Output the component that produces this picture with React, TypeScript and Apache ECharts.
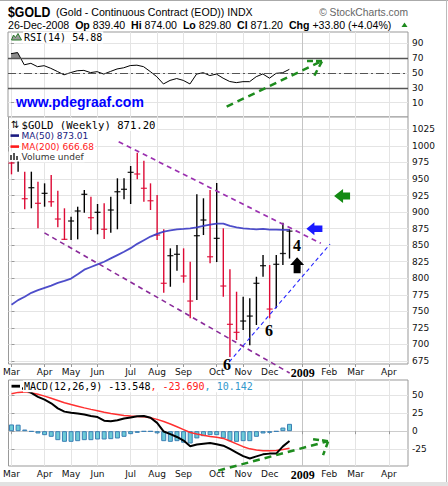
import React, { useEffect, useRef } from 'react';
import * as echarts from 'echarts';

// ---- axis ticks / labels ----
const monthTicks = [0, 5, 9, 13, 18, 22, 26, 31, 35, 39, 44, 48, 52, 57];
const monthLabels = ['Mar', 'Apr', 'May', 'Jun', 'Jul', 'Aug', 'Sep', 'Oct', 'Nov', 'Dec', '2009', 'Feb', 'Mar', 'Apr'];
const priceTicks = [675, 700, 725, 750, 775, 800, 825, 850, 875, 900, 925, 950, 975, 1000, 1025];
const rsiTicks = [10, 30, 50, 70, 90];
const macdTicks = [-25, 0, 25, 50];

// ---- weekly bars (Mar 3 2008 .. Dec 22 2008) ----
const highs = [976, 981.6, 961, 961, 945.8, 943.4, 956, 932.2, 905.7, 893, 908.1, 933.3, 923.2, 912.2, 913.2, 923.2, 951, 951, 969.6, 989.7, 977.6, 943.4, 925.8, 874, 845.2, 850.2, 845.2, 825, 926.8, 920.8, 933.3, 943.9, 875.4, 813.5, 779.7, 772.1, 769.7, 802.3, 835.1, 820, 835.1, 883.9, 874];
const lows = [957, 961, 904.1, 905.7, 875.4, 908.1, 908.1, 877, 857.8, 857.8, 858.8, 899, 872.9, 866.4, 859.3, 868.8, 874, 919.3, 912.2, 949.5, 915.6, 903.1, 857.8, 778.2, 787.2, 811.4, 793.3, 739.5, 767.1, 865.3, 822.6, 824.5, 772.1, 681, 706.7, 721.8, 699, 729.4, 802.3, 739.5, 754.6, 820, 829.8];
const closes = [974, 979, 920.2, 936.8, 913.2, 928.3, 915.6, 889.5, 858.8, 886.5, 901.6, 926.8, 891.5, 899.6, 874, 903.1, 930.7, 934.4, 960, 957.5, 935.9, 917.1, 865.3, 792.4, 834.1, 836.2, 803.4, 765.6, 864.3, 888, 832.5, 860.3, 788.3, 730.4, 718.3, 735.4, 742.9, 792.4, 819, 753.5, 821.1, 837.4, 871.2];
const barDir = ['r', 'k', 'r', 'k', 'r', 'k', 'r', 'r', 'r', 'k', 'k', 'k', 'r', 'k', 'r', 'k', 'k', 'k', 'k', 'r', 'r', 'r', 'r', 'r', 'k', 'k', 'r', 'r', 'k', 'k', 'r', 'k', 'r', 'r', 'r', 'k', 'k', 'k', 'k', 'r', 'k', 'k', 'k'];
const ma50 = [760, 767, 772, 778, 782, 785.5, 789, 793, 796, 799.5, 806, 813, 817, 821, 825, 830, 835, 840, 845.5, 852, 857.5, 863, 867, 870.5, 872.5, 874, 874.5, 875.5, 877, 879, 881, 882.5, 882.5, 879, 877, 875.5, 874.5, 874, 874.5, 873.5, 873.5, 873, 873.01];

// ---- RSI(14) ----
const rsi = [76, 77.5, 61, 63, 58.5, 59.8, 56.3, 52, 47.5, 50.5, 53, 53.5, 50.5, 51.8, 48.5, 52, 55.4, 57, 60, 60.5, 58.5, 52, 45, 35.2, 40, 42.5, 40, 35.2, 48.5, 50.4, 46.5, 48.5, 43, 38.5, 37, 38.3, 38.3, 45, 48.7, 43, 49.5, 50.4, 54.88];

// ---- MACD(12,26,9) ----
const macd = [61, 62.5, 57, 53, 47.5, 43.5, 38.5, 31.5, 27, 25.5, 24.5, 23, 21, 19.5, 14.5, 13.8, 15, 17.5, 19, 20.5, 21, 18.5, 11.5, -0.5, -4, -8, -13, -20.7, -18.5, -17.3, -16.3, -18, -20, -24.5, -29.5, -34.5, -37.7, -34.8, -32, -31, -31, -21, -13.548];
const signal = [51.6, 53.6, 54, 53.2, 51, 48.4, 45.5, 42.4, 39.3, 36.8, 34.5, 32.2, 30.1, 28.1, 26.1, 24.5, 23.1, 21.7, 20.9, 20.4, 20, 18.6, 16.3, 13.4, 10, 6.2, 2.2, -1.8, -3.9, -5.7, -7.2, -8.5, -10, -13.6, -17.5, -21.4, -24.4, -26, -27.1, -27.2, -26.7, -25.3, -23.69];
const hist = [9.3, 9, 2.3, -0.6, -3.2, -5.5, -7.8, -12.4, -14.7, -14.7, -13.8, -12.4, -12.4, -11.5, -11.5, -11, -10.1, -7.8, -4.1, -2.3, -0.5, -0.5, -3, -13.8, -14.7, -13.8, -16, -17, -10, -6.9, -5.5, -5.5, -10, -13.8, -14.7, -13.8, -13.8, -7.8, -3.2, -2.3, -0.5, 5, 10.142];

// ---- hand-drawn annotations (in bar-index / value units) ----
const upperChannel = [[16.19, 1006.3], [46.73, 852.8]];
const lowerChannel = [[4.98, 868.5], [42.02, 656.9]];
const blueSupport = [[32.89, 673.5], [48.13, 851.7]];
const rsiArrowShaft = [[32.54, 4.6], [46.92, 66.2]];
const rsiArrowWing1 = [[44.66, 66.2], [46.92, 66.2]];
const rsiArrowWing2 = [[46.92, 65.5], [45.57, 43.3]];
const macdArrowShaft = [[31.23, -54.5], [47.83, -13.8]];
const macdArrowWing1 = [[45.56, -11], [47.83, -13.8]];
const macdArrowWing2 = [[47.83, -14.5], [47.07, -33.1]];

const SANS = "'Liberation Sans', Arial, sans-serif";
const DV = "'DejaVu Sans', sans-serif";
const MONO = "'DejaVu Sans Mono', monospace";
const SERIF = "'Liberation Serif', 'Times New Roman', serif";

const X_MIN = -0.45;
const X_MAX = 59.9;
const RED = '#dd0a35';

function xAxis(gridIndex: number, showLabels: boolean) {
  const splitColors = monthTicks.map((_, k) => (k === 10 ? '#c4c4c4' : '#e4e4e4'));
  return {
    type: 'value',
    gridIndex,
    min: X_MIN,
    max: X_MAX,
    axisLine: { show: false },
    axisTick: { show: showLabels, customValues: monthTicks, length: 3, lineStyle: { color: '#999' } },
    axisLabel: {
      show: showLabels,
      customValues: monthTicks,
      margin: 3,
      fontFamily: DV,
      fontSize: 9,
      color: '#111',
      formatter: (v: number) => {
        const k = monthTicks.indexOf(Math.round(v));
        const s = k >= 0 ? monthLabels[k] : '';
        return s === '2009' ? '{y|2009}' : s;
      },
      rich: { y: { fontFamily: SERIF, fontWeight: 'bold', fontSize: 12, color: '#000' } },
    },
    splitLine: { show: true, lineStyle: { color: splitColors, width: 1 } },
  };
}

function yAxis(gridIndex: number, min: number, max: number, ticks: number[], splitColor: any) {
  return {
    type: 'value',
    gridIndex,
    position: 'right',
    min,
    max,
    axisLine: { show: false },
    axisTick: { show: true, customValues: ticks, length: 3, lineStyle: { color: '#999' } },
    axisLabel: {
      customValues: ticks,
      fontFamily: DV,
      fontSize: 9,
      color: '#111',
      margin: 4,
      formatter: (v: number) => String(Math.round(v)),
    },
    splitLine: { show: true, lineStyle: { color: splitColor, width: 1 } },
  };
}

function seg(xi: number, data: number[][], color: string, width: number, dash: any, z = 6) {
  return {
    type: 'line',
    xAxisIndex: xi,
    yAxisIndex: xi,
    data,
    symbol: 'none',
    clip: false,
    silent: true,
    z,
    lineStyle: { color, width, type: dash, cap: 'butt' },
  };
}

function buildOption(): any {
  // gray shade of RSI above 70
  const shade: number[][] = [[0, 70]];
  for (let i = 0; i < rsi.length; i++) {
    if (rsi[i] >= 70) shade.push([i, rsi[i]]);
    else {
      if (i > 0 && rsi[i - 1] >= 70) {
        const t = (rsi[i - 1] - 70) / (rsi[i - 1] - rsi[i]);
        shade.push([i - 1 + t, 70]);
      }
      break;
    }
  }

  const ohlc = highs.map((h, i) => [i, h, lows[i], closes[i], barDir[i] === 'r' ? 1 : 0]);

  const txt = (text: string, x: number, y: number, o: any = {}) => ({
    type: 'text',
    z: 100,
    x: o.sx ? x : 0,
    y: o.sx ? y : 0,
    scaleX: o.sx || 1,
    style: {
      text,
      x: o.sx ? 0 : x,
      y: o.sx ? 0 : y,
      fill: o.fill || '#000',
      fontFamily: o.fontFamily || SANS,
      fontSize: o.fontSize || 11,
      fontWeight: o.fontWeight || 'normal',
      textAlign: o.align || 'left',
      align: o.align || 'left',
      textVerticalAlign: 'middle',
      verticalAlign: 'middle',
      backgroundColor: o.bg,
      padding: o.bg ? [1, 1, 1, 1] : undefined,
      rich: o.rich,
    },
  });

  const graphic: any[] = [
    // frame
    { type: 'line', z: 100, shape: { x1: 0, y1: 0.5, x2: 448, y2: 0.5 }, style: { stroke: '#aaa', lineWidth: 1 } },
    { type: 'line', z: 100, shape: { x1: 446.5, y1: 0, x2: 446.5, y2: 486 }, style: { stroke: '#bbb', lineWidth: 1 } },
    { type: 'rect', z: 100, shape: { x: 0, y: 482, width: 448, height: 4 }, style: { fill: '#e2e2e2' } },
    // header
    txt('$GOLD', 8, 12, { fontSize: 15, fontWeight: 'bold', sx: 0.82 }),
    txt('(Gold - Continuous Contract (EOD)) INDX', 56, 12, { fontSize: 10.6 }),
    txt('© StockCharts.com', 408, 12, { fontSize: 10.3, fill: '#666', align: 'right' }),
    txt('26-Dec-2008  {b|Op} 839.40  {b|Hi} 874.00  {b|Lo} 829.80  {b|Cl} 871.20  {b|Chg} +33.80 (+4.04%)', 8, 24.5, {
      fontSize: 10.6,
      rich: { b: { fontWeight: 'bold', fontSize: 10.6, fontFamily: SANS } },
    }),
    { type: 'polygon', z: 100, shape: { points: [[401.5, 27], [407.5, 27], [404.5, 22.5]] }, style: { fill: '#1d8a1d' } },
    // RSI legend
    { type: 'polygon', z: 101, shape: { points: [[11.5, 40], [13.5, 35], [15.5, 37.5], [18, 33.5], [21.5, 40]] }, style: { fill: '#999', stroke: '#2a7a2a', lineWidth: 1 } },
    txt('RSI(14) 54.88', 23, 37.5, { fontFamily: MONO, fontSize: 10, bg: '#fff' }),
    txt('www.pdegraaf.com', 16, 101.5, { fontSize: 14, fontWeight: 'bold', fill: '#0000ff' }),
    // Price legend
    txt('⇅', 10, 124.5, { fontFamily: DV, fontSize: 10, bg: '#fff' }),
    txt('$GOLD (Weekly) 871.20', 20.5, 124.5, { fontFamily: MONO, fontSize: 10.6, bg: '#fff' }),
    { type: 'rect', z: 101, shape: { x: 10.5, y: 134.3, width: 8.5, height: 2.6 }, style: { fill: '#1a1a80' } },
    txt('MA(50) 873.01', 20.5, 135.5, { fontFamily: DV, fontSize: 9, fill: '#1a1a80', bg: '#fff' }),
    { type: 'rect', z: 101, shape: { x: 10.5, y: 145.3, width: 8.5, height: 2.6 }, style: { fill: '#ff1a1a' } },
    txt('MA(200) 666.68', 20.5, 146.5, { fontFamily: DV, fontSize: 9, fill: '#ff1a1a', bg: '#fff' }),
    { type: 'rect', z: 100, shape: { x: 8.5, y: 151.5, width: 12, height: 10 }, style: { fill: '#fff' } },
    { type: 'rect', z: 101, shape: { x: 10, y: 155, width: 2, height: 5 }, style: { fill: '#555' } },
    { type: 'rect', z: 101, shape: { x: 13, y: 153, width: 2, height: 7 }, style: { fill: '#555' } },
    { type: 'rect', z: 101, shape: { x: 16, y: 156, width: 2, height: 4 }, style: { fill: '#555' } },
    txt('Volume undef', 20.5, 156.7, { fontFamily: DV, fontSize: 9, fill: '#333', bg: '#fff' }),
    // wave labels
    txt('4', 297, 245.5, { fontFamily: SERIF, fontSize: 16, fontWeight: 'bold', align: 'center' }),
    txt('6', 269, 330, { fontFamily: SERIF, fontSize: 16, fontWeight: 'bold', align: 'center' }),
    txt('6', 227, 364.5, { fontFamily: SERIF, fontSize: 16, fontWeight: 'bold', align: 'center' }),
    // MACD legend
    { type: 'rect', z: 100, shape: { x: 9, y: 381, width: 13, height: 10 }, style: { fill: '#fff' } },
    { type: 'rect', z: 101, shape: { x: 11.5, y: 384.8, width: 8.5, height: 2.8 }, style: { fill: '#000' } },
    txt('MACD(12,26,9) -13.548{r|, -23.690}{c|, 10.142}', 23, 386.3, {
      fontFamily: MONO,
      fontSize: 10,
      bg: '#fff',
      rich: {
        r: { fill: '#ff2020', fontFamily: MONO, fontSize: 10 },
        c: { fill: '#3399cc', fontFamily: MONO, fontSize: 10 },
      },
    }),
  ];

  return {
    animation: false,
    backgroundColor: '#fff',
    grid: [
      { left: 8, width: 400, top: 32, height: 85, show: true, borderColor: '#999', borderWidth: 1, backgroundColor: '#fff' },
      { left: 8, width: 400, top: 117, height: 247, show: true, borderColor: '#999', borderWidth: 1, backgroundColor: '#fff' },
      { left: 8, width: 400, top: 380, height: 86, show: true, borderColor: '#999', borderWidth: 1, backgroundColor: '#fff' },
    ],
    xAxis: [xAxis(0, false), xAxis(1, true), xAxis(2, true)],
    yAxis: [
      yAxis(0, -9.3, 105.2, rsiTicks, '#e4e4e4'),
      yAxis(1, 670.5, 1043.6, priceTicks, '#e4e4e4'),
      yAxis(2, -48.1, 70.7, macdTicks, ['#e4e4e4', '#cccccc', '#e4e4e4', '#e4e4e4']),
    ],
    graphic: { elements: graphic },
    series: [
      // RSI shade
      {
        type: 'custom',
        xAxisIndex: 0,
        yAxisIndex: 0,
        silent: true,
        data: [[0, 70]],
        renderItem: (_p: any, api: any) => ({
          type: 'polygon',
          shape: { points: shade.map((pt) => api.coord(pt)) },
          style: { fill: '#8c8c8c' },
        }),
        z: 3,
      },
      {
        type: 'line',
        xAxisIndex: 0,
        yAxisIndex: 0,
        data: rsi.map((v, i) => [i, v]),
        symbol: 'none',
        silent: true,
        lineStyle: { color: '#000', width: 1 },
        z: 4,
        markLine: {
          silent: true,
          symbol: 'none',
          label: { show: false },
          data: [
            { yAxis: 70, lineStyle: { color: '#555', width: 1.3, type: 'solid' } },
            { yAxis: 30, lineStyle: { color: '#555', width: 1.3, type: 'solid' } },
            { yAxis: 50, lineStyle: { color: '#555', width: 1, type: [8, 3, 2, 3] } },
          ],
        },
      },
      seg(0, rsiArrowShaft, '#1e8c1e', 2.5, [7, 5]),
      seg(0, rsiArrowWing1, '#1e8c1e', 2.5, [6, 3]),
      seg(0, rsiArrowWing2, '#1e8c1e', 2.5, [6, 4]),
      // price bars
      {
        type: 'custom',
        xAxisIndex: 1,
        yAxisIndex: 1,
        silent: true,
        data: ohlc,
        encode: { x: 0, y: [1, 2, 3] },
        z: 3,
        renderItem: (_p: any, api: any) => {
          const i = api.value(0);
          const top = api.coord([i, api.value(1)]);
          const bot = api.coord([i, api.value(2)]);
          const c = api.coord([i, api.value(3)]);
          const color = api.value(4) ? RED : '#000';
          return {
            type: 'group',
            children: [
              { type: 'line', shape: { x1: top[0], y1: top[1], x2: bot[0], y2: bot[1] }, style: { stroke: color, lineWidth: 1.4 } },
              { type: 'line', shape: { x1: c[0] - 3, y1: c[1], x2: c[0] + 3, y2: c[1] }, style: { stroke: color, lineWidth: 1.3, opacity: 0.85 } },
            ],
          };
        },
      },
      {
        type: 'line',
        xAxisIndex: 1,
        yAxisIndex: 1,
        data: ma50.map((v, i) => [i, v]),
        symbol: 'none',
        silent: true,
        lineStyle: { color: '#3a3ac4', width: 1.8, opacity: 0.9 },
        z: 4,
        markPoint: {
          silent: true,
          label: { show: false },
          data: [
            { coord: [49.94, 924.2], symbol: 'path://M0,7 L9,0 L9,3.5 L16,3.5 L16,10.5 L9,10.5 L9,14 Z', symbolSize: [16, 14], itemStyle: { color: '#138a13' } },
            { coord: [45.76, 874.9], symbol: 'path://M0,6.5 L8,0 L8,3.2 L16,3.2 L16,9.8 L8,9.8 L8,13 Z', symbolSize: [16, 13], itemStyle: { color: '#1a1aff' } },
            { coord: [43.15, 819.6], symbol: 'path://M7,0 L14,7.7 L10.5,7.7 L10.5,16 L3.5,16 L3.5,7.7 L0,7.7 Z', symbolSize: [14, 16], itemStyle: { color: '#000' } },
          ],
        },
      },
      seg(1, upperChannel, '#9b30b0', 1.7, [5, 4]),
      seg(1, lowerChannel, '#8a2a9a', 1.6, [5, 4]),
      seg(1, blueSupport, '#2525ff', 1.1, [4, 3]),
      // MACD
      {
        type: 'bar',
        xAxisIndex: 2,
        yAxisIndex: 2,
        data: hist.map((v, i) => [i, v]),
        barWidth: 5,
        silent: true,
        itemStyle: { color: '#6ccbd6', borderColor: '#3a7fb5', borderWidth: 1 },
        z: 2,
      },
      {
        type: 'line',
        xAxisIndex: 2,
        yAxisIndex: 2,
        data: signal.map((v, i) => [i, v]),
        symbol: 'none',
        silent: true,
        lineStyle: { color: '#ff3030', width: 1.5 },
        z: 3,
      },
      {
        type: 'line',
        xAxisIndex: 2,
        yAxisIndex: 2,
        data: macd.map((v, i) => [i, v]),
        symbol: 'none',
        silent: true,
        lineStyle: { color: '#000', width: 2 },
        z: 4,
      },
      seg(2, macdArrowShaft, '#1e8c1e', 2.5, [7, 5]),
      seg(2, macdArrowWing1, '#1e8c1e', 2.5, [6, 3]),
      seg(2, macdArrowWing2, '#1e8c1e', 2.5, [6, 4]),
    ],
  };
}

export default function App() {
  const ref = useRef<HTMLDivElement>(null);
  useEffect(() => {
    document.body.style.margin = '0';
    const chart = echarts.init(ref.current as HTMLDivElement, null, { renderer: 'svg' });
    chart.setOption(buildOption());
    return () => chart.dispose();
  }, []);
  return <div ref={ref} style={{ width: 448, height: 486 }} />;
}
